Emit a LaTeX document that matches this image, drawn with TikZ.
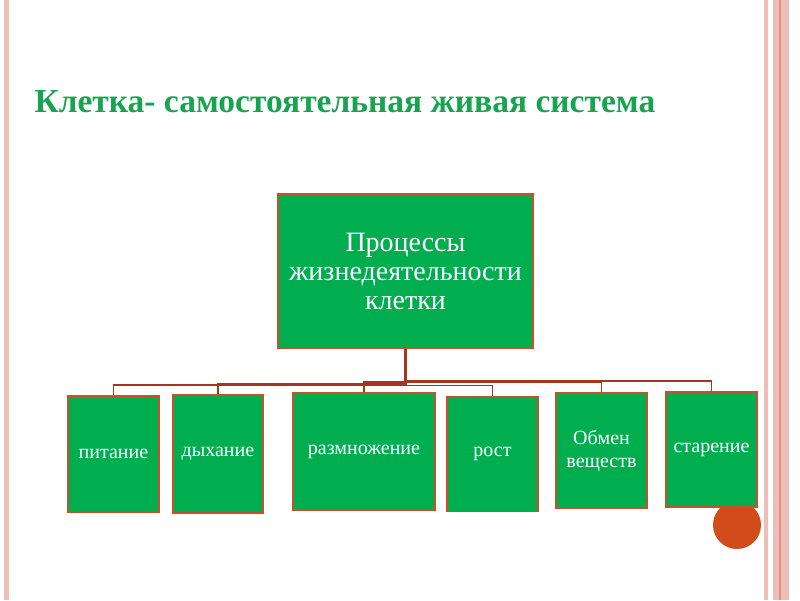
\documentclass[tikz,border=0pt]{standalone}
\usepackage{fontspec}
\setmainfont{Liberation Serif}
\usetikzlibrary{positioning}

\definecolor{boxgreen}{HTML}{00AE50}
\definecolor{titlegreen}{HTML}{17A34F}
\definecolor{boxedge}{HTML}{C9502A}
\definecolor{linkred}{HTML}{A3361C}
\definecolor{dotred}{HTML}{D24C1B}
\definecolor{frameA}{HTML}{EDBDB8}
\definecolor{frameB}{HTML}{DE8F7E}

\begin{document}
\begin{tikzpicture}[x=1pt, y=-1pt,
    proc/.style={draw=boxedge, line width=1.8pt, fill=boxgreen, text=white, align=center, inner sep=0pt, font=\fontsize{28}{29}\selectfont},
    kid/.style={draw=boxedge, line width=1.8pt, fill=boxgreen, text=white, align=center, inner sep=0pt, minimum width=91pt, minimum height=116pt, font=\fontsize{20}{23}\selectfont},
    link/.style={draw=linkred, line width=1.6pt}
]
\useasboundingbox (0,0) rectangle (800,600);

% slide frame
\fill[frameA] (4,0) rectangle (9,600);
\fill[frameA] (764,0) rectangle (768,600);
\fill[frameA] (773,0) rectangle (789,600);
\fill[frameB] (778.5,0) rectangle (781,600);

% title
\node[anchor=west, text=titlegreen, font=\bfseries\fontsize{33.5}{38}\selectfont] (title) at (31,102) {Клетка- самостоятельная живая система};

% corner dot
\fill[dotred] (737,525) circle (24);

% top box
\node[proc, minimum width=255pt, minimum height=154pt] (top) at (405.5,271) {Процессы\\жизнедеятельности\\клетки};

% children
\node[kid] (pit) at (113.5,454) {питание};
\node[kid, minimum width=90pt, minimum height=118pt] (dyh) at (218,454) {дыхание};
\node[kid, minimum width=142pt, minimum height=117pt] (razm) at (364,451.5) {размножение};
\node[kid, minimum height=115pt] (rost) at (492.5,454) {рост};
\node[kid, minimum height=115pt] (obm) at (601.5,450.5) {Обмен\\веществ};
\node[kid, minimum height=115pt] (star) at (711.5,449.5) {старение};

% connectors
\foreach \c in {pit,dyh,razm,rost,obm,star}
  \draw[link] (top.south) |- ([yshift=10pt]\c.north) -- (\c.north);
\draw[link, line width=2.4pt] (top.south) -- ++(0,36);
\end{tikzpicture}
\end{document}
